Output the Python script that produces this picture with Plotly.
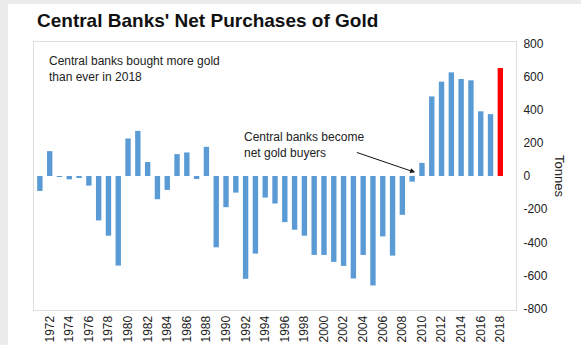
import plotly.graph_objects as go

years = list(range(1971, 2019))
tonnes = [-90, 150, -5, -20, -12, -58, -268, -360, -540, 226,
          272, 84, -140, -84, 132, 142, -18, 176, -430, -188,
          -100, -620, -468, -130, -166, -278, -324, -360, -476, -476,
          -518, -542, -618, -476, -660, -364, -480, -234, -34, 79,
          480, 569, 625, 585, 577, 390, 373, 651]
tick_years = list(range(1972, 2019, 2))
y_ticks = list(range(-800, 801, 200))
y_tick_text = [str(v) for v in y_ticks]

blue = "#5B9BD5"
red = "#FF0000"
colors = [red if y == 2018 else blue for y in years]

fig = go.Figure()
fig.add_trace(go.Bar(x=years, y=tonnes, marker=dict(color=colors, line=dict(width=0)),
                     width=0.55, showlegend=False, hoverinfo="x+y"))

W, H = 581, 345
L, R, T, B = 34, 65, 42, 35
fig.update_layout(
    width=W, height=H,
    margin=dict(l=L, r=R, t=T, b=B, pad=0, autoexpand=False),
    paper_bgcolor="#ececec",
    plot_bgcolor="white",
    font=dict(family="Liberation Sans, Arial, sans-serif", color="#222222", size=12),
    xaxis=dict(range=[1970.4, 2019.6], tickmode="array", tickvals=tick_years,
               ticktext=[str(t) for t in tick_years], tickangle=-90, automargin=False,
               showgrid=False, zeroline=False, showline=True, mirror=True,
               linecolor="#dddddd", linewidth=1, ticks="", tickfont=dict(size=12, color="#222222")),
    yaxis=dict(range=[-808, 808], side="right", tickmode="array", tickvals=y_ticks,
               ticktext=y_tick_text, automargin=False,
               showgrid=False, zeroline=False, showline=True, mirror=True,
               linecolor="#dddddd", linewidth=1, ticks="", ticklabelstandoff=4,
               tickfont=dict(size=12, color="#222222")),
    bargap=0.45,
)

# white page panel (thin grey border at top and left)
pw = W - L - R
ph = H - T - B
fig.add_shape(type="rect", xref="paper", yref="paper", layer="below",
              x0=(8 - L) / pw, x1=(W + 5 - L) / pw,
              y0=-(B + 5) / ph, y1=1 + (T - 4) / ph,
              fillcolor="white", line=dict(width=0))

fig.add_annotation(xref="paper", yref="paper", x=(35 - L) / pw, y=1 + (T - 8) / ph,
                   xanchor="left", yanchor="top", showarrow=False,
                   text="<b>Central Banks' Net Purchases of Gold</b>",
                   font=dict(size=19, color="#111111", family="Liberation Sans, Arial, sans-serif"))

fig.add_annotation(xref="paper", yref="paper", x=(47 - L) / pw, y=1 - (52 - T) / ph,
                   xanchor="left", yanchor="top", showarrow=False, align="left",
                   text="Central banks bought more gold<br>than ever in 2018",
                   font=dict(size=12, color="#222222"))

fig.add_annotation(x=1970.4 + (243 - L) / 9.84, y=(176 - 128) / 0.1658,
                   xanchor="left", yanchor="top", showarrow=False, align="left",
                   text="Central banks become<br>net gold buyers",
                   font=dict(size=12, color="#222222"))

fig.add_annotation(x=2009.3, y=22, ax=2003.2, ay=145, xref="x", yref="y",
                   axref="x", ayref="y", text="", showarrow=True,
                   arrowhead=2, arrowsize=1, arrowwidth=1, arrowcolor="#111111")

fig.add_annotation(xref="paper", yref="paper", x=1 + (560 - (W - R)) / pw, y=(H - B - 176) / ph,
                   xanchor="center", yanchor="middle", showarrow=False, textangle=90,
                   text="Tonnes", font=dict(size=13, color="#222222"))

fig.write_html("out.html")
